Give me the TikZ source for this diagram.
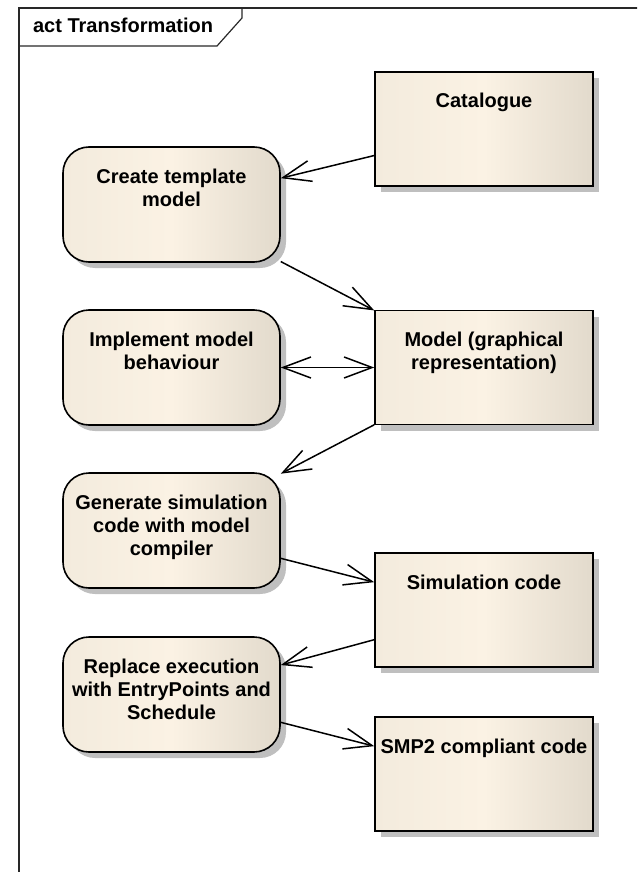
\documentclass[tikz,border=0pt]{standalone}
\usepackage{fontspec}
\setmainfont{Liberation Sans}
\usetikzlibrary{arrows.meta,shadows}

\definecolor{boxleft}{RGB}{243,235,221}
\definecolor{boxmid}{RGB}{251,242,228}
\definecolor{boxright}{RGB}{226,218,204}
\definecolor{framegray}{RGB}{40,40,40}

\newcommand{\boxlines}[1]{\parbox[c][114pt][t]{215pt}{\centering\rule{0pt}{36pt}#1}}

\tikzset{
  boxfill/.style={draw=black, line width=1.6pt, left color=boxleft, right color=boxright,
    middle color=boxmid, inner sep=0pt,
    drop shadow={shadow xshift=6pt, shadow yshift=-6pt, fill=black!25, opacity=1}},
  action/.style={boxfill, rounded corners=26pt, minimum width=217pt, minimum height=115pt},
  object/.style={boxfill, minimum width=218pt, minimum height=114pt},
}

\begin{document}
\begin{tikzpicture}[x=1pt, y=-1pt, line width=1.5pt,
  >={Straight Barb[length=28pt,width=21pt]},
  every node/.style={font=\fontsize{20}{23}\selectfont\bfseries}]

\useasboundingbox (0,0) rectangle (637,872);
\clip (0,0) rectangle (637,872);

% frame and title tab
\draw[framegray, line width=1.6pt] (19,900) -- (19,8) -- (660,8);
\draw[framegray, line width=1.2pt] (19,46) -- (217,46) -- (242,18) -- (242,8);
\node[anchor=base west] (title) at (29,33) {act Transformation};

% actions
\node[action] (create) at (171.5,204.5) {\boxlines{Create template\\ model}};
\node[action] (implement) at (171.5,367.5) {\boxlines{Implement model\\ behaviour}};
\node[action] (generate) at (171.5,530.5) {\boxlines{Generate simulation\\ code with model\\ compiler}};
\node[action] (replace) at (171.5,694.5) {\boxlines{Replace execution\\ with EntryPoints and\\ Schedule}};

% objects
\node[object] (catalogue) at (484,129) {\boxlines{Catalogue}};
\node[object] (model) at (484,367.5) {\boxlines{Model (graphical\\ representation)}};
\node[object] (simcode) at (484,610) {\boxlines{Simulation code}};
\node[object] (smpcode) at (484,774) {\boxlines{SMP2 compliant code}};

% flows
\draw[->] (catalogue) -- (create);
\draw[->] (create) -- (model);
\draw[<->] (implement) -- (model);
\draw[->] (model) -- (generate);
\draw[->] (generate) -- (simcode);
\draw[->] (simcode) -- (replace);
\draw[->] (replace) -- (smpcode);

\end{tikzpicture}
\end{document}
